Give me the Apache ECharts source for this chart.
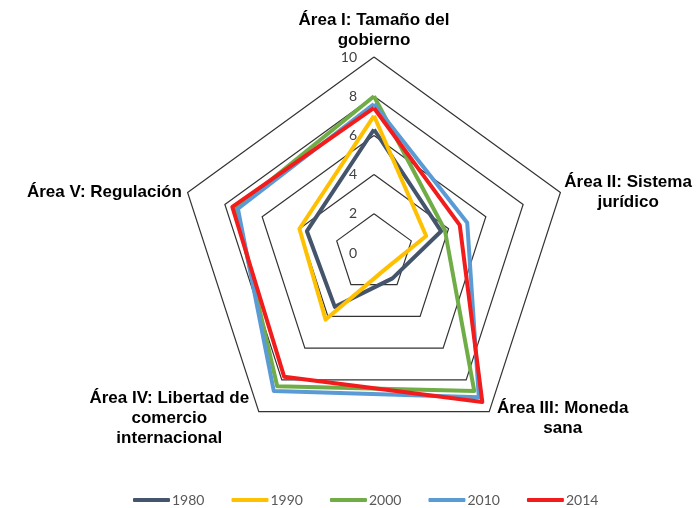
<!DOCTYPE html>
<html><head><meta charset="utf-8">
<script src="https://cdn.jsdelivr.net/npm/echarts@6/dist/echarts.min.js"></script>
<style>html,body{margin:0;padding:0;background:#fff}#c{width:700px;height:508px}</style>
</head><body><div id="c"></div>
<script>
// Categories (Area I..V, clockwise from top in the reference)
const areas = [
  'Área I: Tamaño del\ngobierno',
  'Área II: Sistema\njurídico',
  'Área III: Moneda\nsana',
  'Área IV: Libertad de\ncomercio\ninternacional',
  'Área V: Regulación'
];
const years = ['1980', '1990', '2000', '2010', '2014'];
// Values in Area order I..V
const v1980 = [6.3, 3.6, 1.6, 3.4, 3.6];
const v1990 = [7.0, 2.8, 1.0, 4.2, 4.0];
const v2000 = [8.0, 3.8, 8.7, 8.4, 7.4];
const v2010 = [7.6, 5.0, 9.1, 8.7, 7.3];
const v2014 = [7.4, 4.6, 9.4, 7.8, 7.6];
const tickLabels = [0, 2, 4, 6, 8, 10];

const colors = ['#44546A', '#FFC000', '#70AD47', '#5B9BD5', '#F21C1C'];
const seriesValues = [v1980, v1990, v2000, v2010, v2014];

// ECharts lays indicators counter-clockwise; reorder so they go clockwise like the reference.
const order = [0, 4, 3, 2, 1];
const axisMax = tickLabels[tickLabels.length - 1];

const indicator = order.map((i, k) => {
  const o = { name: areas[i], min: tickLabels[0], max: axisMax };
  if (k === 0) o.axisLabel = { show: true };
  return o;
});

const nameFont = { fontFamily: 'Liberation Sans, Arial, sans-serif', fontWeight: 'bold', fontSize: 17, lineHeight: 20, color: '#000' };
const richWidths = [166, 124, 140, 172, 0];
const rich = {};
richWidths.forEach((w, i) => {
  rich['n' + i] = Object.assign({}, nameFont, w ? { width: w, align: 'center' } : {});
});

const chart = echarts.init(document.getElementById('c'), null, { renderer: 'canvas' });
chart.setOption({
  animation: false,
  backgroundColor: '#fff',
  legend: {
    data: years,
    left: 128,
    top: 488,
    itemWidth: 37,
    itemHeight: 4,
    itemGap: 27,
    icon: 'roundRect',
    textStyle: { fontFamily: 'Lato, Carlito, sans-serif', fontSize: 14, color: '#595959', padding: [0, 0, 0, -3] }
  },
  radar: {
    center: [374, 253],
    radius: 196,
    shape: 'polygon',
    splitNumber: tickLabels.length - 1,
    startAngle: 90,
    nameGap: 6,
    indicator: indicator,
    axisName: {
      formatter: function (name) {
        const idx = areas.indexOf(name);
        return name.split('\n').map(l => '{n' + idx + '|' + l + '}').join('\n');
      },
      rich: rich,
      padding: [4, 0, 0, 0],
      fontFamily: nameFont.fontFamily,
      fontWeight: 'bold',
      fontSize: 17,
      lineHeight: 20,
      color: '#000'
    },
    axisLine: { show: false },
    axisTick: { show: false },
    axisLabel: {
      show: false,
      margin: 17,
      fontFamily: 'Lato, Carlito, sans-serif',
      fontSize: 14,
      color: '#404040'
    },
    splitLine: { lineStyle: { color: '#333333', width: 1.2 } },
    splitArea: { show: false }
  },
  series: [{
    type: 'radar',
    symbol: 'none',
    data: years.map((y, s) => ({
      name: y,
      value: order.map(i => seriesValues[s][i]),
      lineStyle: { color: colors[s], width: 4 },
      itemStyle: { color: colors[s] }
    }))
  }]
});
</script></body></html>
